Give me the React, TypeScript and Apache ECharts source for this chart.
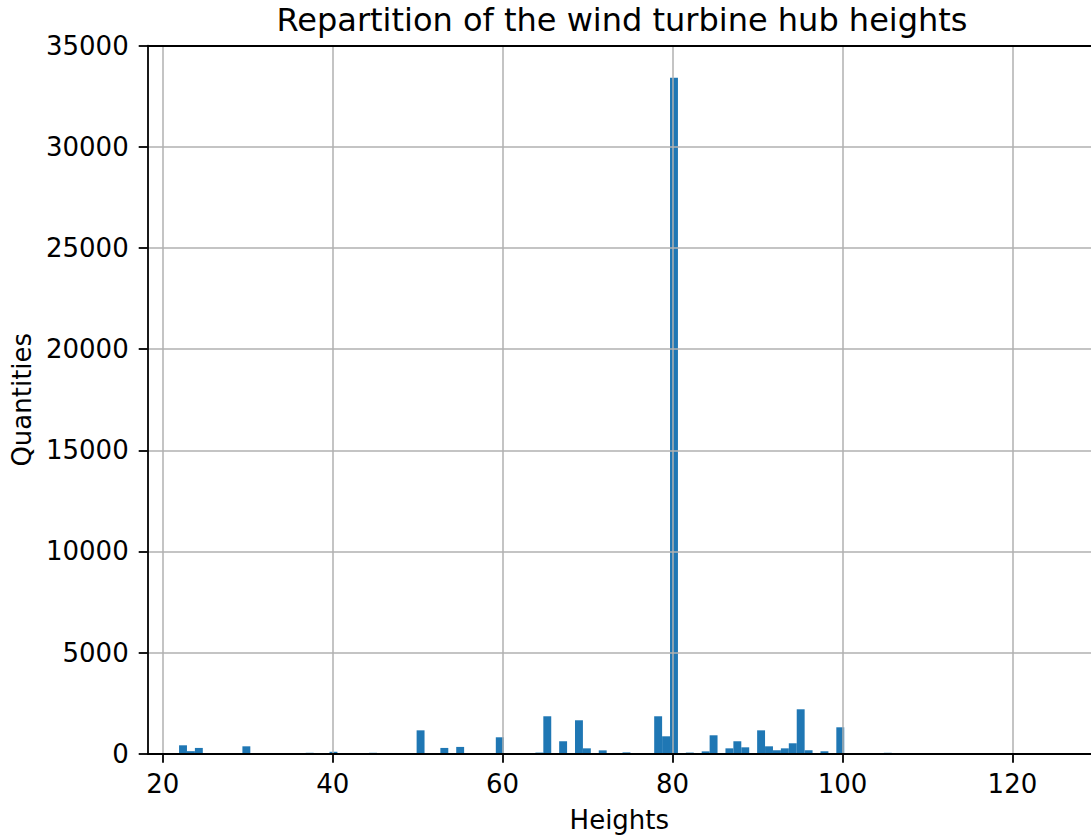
import React, { useEffect, useRef } from "react";
import * as echarts from "echarts";

// Histogram definition (x in metres)
const binStart = 21.92;
const binWidth = 0.932;
// bin index -> count (only non-empty bins)
const binIndex = [0, 1, 2, 8, 16, 19, 24, 30, 33, 35, 40, 45, 46, 48, 50, 51, 53, 56, 60, 61, 62, 64, 66, 67, 69, 70, 71, 73, 74, 75, 76, 77, 78, 79, 81, 83, 89];
const counts = [420, 130, 290, 370, 50, 100, 50, 1160, 290, 340, 816, 60, 1855, 620, 1657, 270, 170, 70, 1855, 865, 33420, 60, 120, 915, 270, 620, 320, 1160, 370, 175, 270, 520, 2200, 175, 125, 1310, 50];

const xTicks = [20, 40, 60, 80, 100, 120];

const titleText = "Repartition of the wind turbine hub heights";
const xName = "Heights";
const yName = "Quantities";

const FONT = "DejaVu Sans";

export default function App() {
  const ref = useRef<HTMLDivElement>(null);
  useEffect(() => {
    if (!ref.current) return;
    const chart = echarts.init(ref.current, undefined, { renderer: "svg" });
    const data = binIndex.map((k, i) => [binStart + k * binWidth, binStart + (k + 1) * binWidth, counts[i]]);
    const axisLineStyle = { color: "#000", width: 1.8 };
    chart.setOption({
      animation: false,
      backgroundColor: "#fff",
      graphic: [
        {
          type: "text",
          x: 622,
          y: 20,
          style: { text: titleText, fontSize: 32, fontFamily: FONT, fill: "#000", align: "center", verticalAlign: "middle" },
        },
      ],
      grid: { left: 147.7, top: 45.7, right: 0, bottom: 83.2, outerBoundsMode: "none", containLabel: false },
      xAxis: [
        {
          type: "value",
          min: 18.23,
          max: 129.25,
          position: "bottom",
          z: 3,
          axisLine: { show: true, onZero: false, lineStyle: axisLineStyle },
          axisTick: { show: true, customValues: xTicks, length: 9, lineStyle: axisLineStyle },
          axisLabel: { customValues: xTicks, fontSize: 26, fontFamily: FONT, color: "#000", margin: 17, formatter: (v: number) => String(v) },
          splitLine: { show: true, lineStyle: { color: "#b0b0b0", width: 1.5 } },
          name: xName,
          nameLocation: "middle",
          nameGap: 53,
          nameTextStyle: { fontSize: 26, fontFamily: FONT, color: "#000" },
        },
        {
          type: "value",
          min: 18.23,
          max: 129.25,
          position: "top",
          z: 3,
          axisLine: { show: true, onZero: false, lineStyle: axisLineStyle },
          axisTick: { show: false },
          axisLabel: { show: false },
          splitLine: { show: false },
        },
      ],
      yAxis: {
        type: "value",
        min: 0,
        max: 35000,
        interval: 5000,
        z: 3,
        axisLine: { show: true, onZero: false, lineStyle: axisLineStyle },
        axisTick: { show: true, length: 9, lineStyle: axisLineStyle },
        axisLabel: { fontSize: 26, fontFamily: FONT, color: "#000", margin: 19, formatter: (v: number) => String(v) },
        splitLine: { show: true, lineStyle: { color: "#b0b0b0", width: 1.5 } },
        name: yName,
        nameLocation: "middle",
        nameGap: 113,
        nameTextStyle: { fontSize: 26, fontFamily: FONT, color: "#000" },
      },
      series: [
        {
          type: "custom",
          xAxisIndex: 0,
          yAxisIndex: 0,
          data,
          encode: { x: [0, 1], y: 2 },
          renderItem: (params: any, api: any) => {
            const p0 = api.coord([api.value(0), api.value(2)]);
            const p1 = api.coord([api.value(1), 0]);
            return {
              type: "rect",
              shape: { x: p0[0], y: p0[1], width: p1[0] - p0[0], height: p1[1] - p0[1] },
              style: { fill: "#1f77b4" },
            };
          },
        },
      ],
    });
    return () => chart.dispose();
  }, []);
  return <div ref={ref} style={{ position: "fixed", left: 0, top: 0, width: 1091, height: 837 }} />;
}
